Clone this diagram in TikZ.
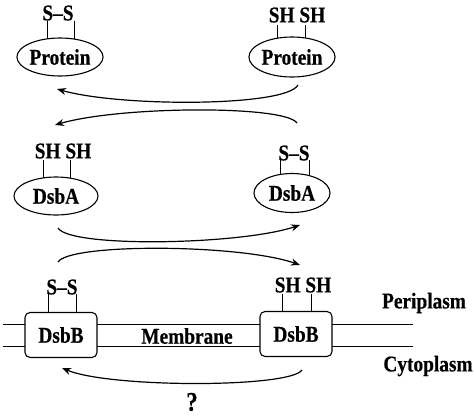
\documentclass[tikz,border=0pt]{standalone}
\usepackage{graphicx}
\usepackage{fontspec}
\setmainfont{Liberation Serif}[BoldFeatures={FakeBold=0.5}]
\usetikzlibrary{shapes.geometric,arrows.meta}
\pgfdeclarelayer{background}
\pgfsetlayers{background,main}
\newcommand{\cz}[1]{\scalebox{0.86}[1]{#1}}
\tikzset{
  txt/.style={font=\fontsize{22.5}{24}\selectfont\bfseries},
  lbl/.style={txt, inner sep=0pt},
  oval/.style={ellipse, draw, line width=1.1pt, fill=white, inner sep=0pt, txt},
  box/.style={rectangle, rounded corners=5pt, draw, line width=1.1pt, fill=white, inner sep=0pt, minimum width=72pt, minimum height=45pt, txt},
  stem/.style={line width=0.8pt},
  memb/.style={line width=1pt},
  flow/.style={line width=1.2pt, -{Stealth[length=9pt,width=7pt]}}
}
\begin{document}
\begin{tikzpicture}[x=1pt,y=-1pt]
\useasboundingbox (0,0) rectangle (474,418);
% nodes
\node[oval, minimum width=84pt, minimum height=38pt] (prL) at (60,57) {\cz{Protein}};
\node[oval, minimum width=78pt, minimum height=40pt] (prR) at (292,57) {\cz{Protein}};
\node[oval, minimum width=84pt, minimum height=38pt] (daL) at (56,196) {\cz{DsbA}};
\node[oval, minimum width=76pt, minimum height=39pt] (daR) at (292,193) {\cz{DsbA}};
\node[box] (dbL) at (61,335) {\cz{DsbB}};
\node[box] (dbR) at (296,334) {\cz{DsbB}};
% labels
\node[lbl] (ssP) at (58,13) {\cz{S--S}};
\node[lbl] (shP) at (297,15) {\cz{SH SH}};
\node[lbl] (shA) at (63,151) {\cz{SH SH}};
\node[lbl] (ssA) at (294,153) {\cz{S--S}};
\node[lbl] (ssB) at (62,287) {\cz{S--S}};
\node[lbl] (shB) at (303,285) {\cz{SH SH}};
\node[lbl] (mem) at (187,336) {\cz{Membrane}};
\node[lbl] (peri) at (424,303) {\cz{Periplasm}};
\node[lbl] (cyto) at (428,366) {\cz{Cytoplasm}};
\node[lbl, font=\fontsize{27}{28}\selectfont\bfseries] (q) at (192,402) {\cz{?}};
% stems and membrane (behind)
\coordinate (p1) at (47,21); \coordinate (p2) at (74,21);
\coordinate (p3) at (277,25); \coordinate (p4) at (305,25);
\coordinate (a1) at (43,160); \coordinate (a2) at (70,160);
\coordinate (a3) at (280,160); \coordinate (a4) at (309,160);
\coordinate (b1) at (48,294); \coordinate (b2) at (76,294);
\coordinate (b3) at (282,294); \coordinate (b4) at (311,294);
\coordinate (mL) at (3,324); \coordinate (mR) at (413,324);
\begin{pgfonlayer}{background}
\foreach \c/\n in {p1/prL,p2/prL,p3/prR,p4/prR,a1/daL,a2/daL,a3/daR,a4/daR,b1/dbL,b2/dbL,b3/dbR,b4/dbR}
  \draw[stem] (\c) -- (\c |- \n.center);
\draw[memb] (mL) -- (mR);
\draw[memb] ([yshift=-22pt]mL) -- ([yshift=-22pt]mR);
\end{pgfonlayer}
% flow arrows
\coordinate (f1s) at (298,85); \coordinate (f1e) at (57,89);
\draw[flow] (f1s) .. controls (286,107) and (120,107) .. (f1e);
\coordinate (f2s) at (297,123); \coordinate (f2e) at (55,125);
\draw[flow] (f2s) .. controls (285,105) and (120,106) .. (f2e);
\coordinate (f3s) at (58,228); \coordinate (f3e) at (300,225);
\draw[flow] (f3s) .. controls (70,248) and (240,245) .. (f3e);
\coordinate (f4s) at (58,262); \coordinate (f4e) at (300,265);
\draw[flow] (f4s) .. controls (70,243) and (240,244) .. (f4e);
\coordinate (f5s) at (302,370); \coordinate (f5e) at (62,368);
\draw[flow] (f5s) .. controls (290,388) and (110,388) .. (f5e);
\end{tikzpicture}
\end{document}
